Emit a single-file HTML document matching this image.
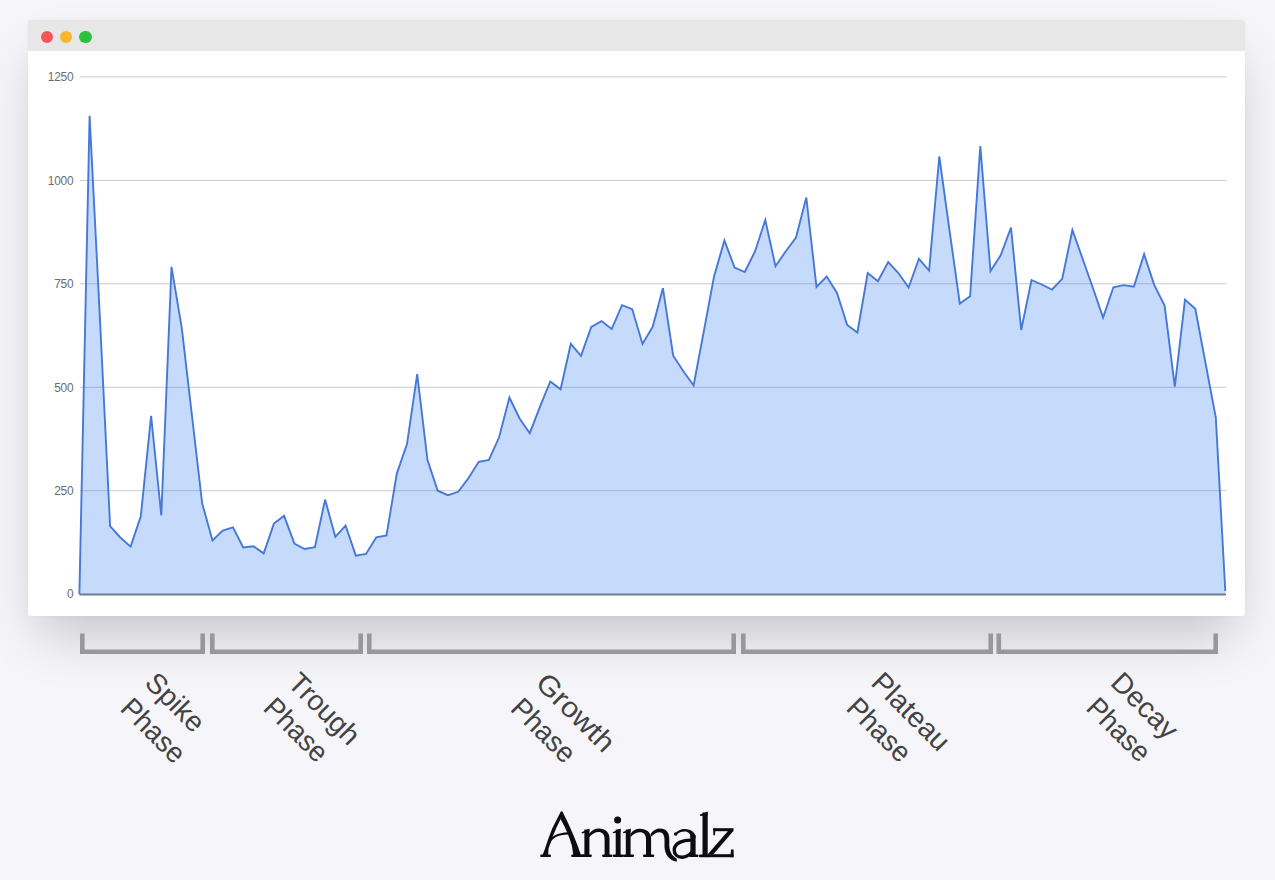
<!DOCTYPE html>
<html><head><meta charset="utf-8">
<style>
html,body{margin:0;padding:0;}
body{width:1275px;height:880px;overflow:hidden;background:#f5f5fa;position:relative;font-family:"Liberation Sans",sans-serif;}
.win{position:absolute;left:28px;top:20px;width:1217px;height:596px;background:#fff;border-radius:3px;overflow:hidden;box-shadow:0 28px 52px -10px rgba(0,0,0,0.2),0 0 6px rgba(0,0,0,0.03);}
.bar{position:absolute;left:0;top:0;width:100%;height:30.6px;background:#e7e7e7;}
.dot{position:absolute;top:10.5px;width:12.5px;height:12.5px;border-radius:50%;}
svg{position:absolute;left:0;top:0;}
</style></head><body>
<div class="win">
<div class="bar">
<div class="dot" style="left:12.8px;background:#f6565a"></div>
<div class="dot" style="left:31.8px;background:#f8b62f"></div>
<div class="dot" style="left:51px;background:#2cc23f"></div>
</div>
</div>
<svg width="1275" height="880" viewBox="0 0 1275 880">
<g><line x1="80" y1="76.9" x2="1226.5" y2="76.9" stroke="#c9c9c9" stroke-width="1"/>
<line x1="80" y1="180.4" x2="1226.5" y2="180.4" stroke="#c9c9c9" stroke-width="1"/>
<line x1="80" y1="283.8" x2="1226.5" y2="283.8" stroke="#c9c9c9" stroke-width="1"/>
<line x1="80" y1="387.3" x2="1226.5" y2="387.3" stroke="#c9c9c9" stroke-width="1"/>
<line x1="80" y1="490.7" x2="1226.5" y2="490.7" stroke="#c9c9c9" stroke-width="1"/>
</g>
<g font-family="Liberation Sans, sans-serif" font-size="11.9" fill="#6c6c6c" letter-spacing="-0.25"><text x="73.3" y="81.1" text-anchor="end">1250</text>
<text x="73.3" y="184.6" text-anchor="end">1000</text>
<text x="73.3" y="288.0" text-anchor="end">750</text>
<text x="73.3" y="391.5" text-anchor="end">500</text>
<text x="73.3" y="494.9" text-anchor="end">250</text>
<text x="73.3" y="598.4" text-anchor="end">0</text>
</g>
<polygon points="79.4,594.2 79.4,594.0 89.6,115.8 99.9,318.0 110.1,526.1 120.3,537.5 130.6,546.6 140.8,516.2 151.1,415.9 161.3,515.3 171.5,266.9 181.8,328.2 192.0,416.0 202.2,503.5 212.5,540.4 222.7,530.5 233.0,527.4 243.2,547.5 253.4,546.2 263.7,553.4 273.9,523.6 284.1,515.8 294.4,543.5 304.6,549.0 314.9,547.1 325.1,499.6 335.3,536.8 345.6,525.5 355.8,555.6 366.0,554.0 376.3,537.3 386.5,535.5 396.8,473.6 407.0,444.1 417.2,374.1 427.5,460.0 437.7,490.7 447.9,495.2 458.2,491.8 468.4,478.2 478.7,461.8 488.9,460.0 499.1,437.3 509.4,397.5 519.6,418.5 529.8,433.2 540.1,406.4 550.3,381.4 560.6,389.3 570.8,343.9 581.0,355.9 591.3,326.8 601.5,321.1 611.7,329.1 622.0,305.2 632.2,309.1 642.5,343.9 652.7,326.8 662.9,288.2 673.2,355.7 683.4,371.2 693.6,385.5 703.9,330.9 714.1,276.2 724.4,240.5 734.6,267.5 744.8,272.0 755.1,251.2 765.3,220.0 775.5,266.2 785.8,251.2 796.0,237.5 806.3,197.5 816.5,287.0 826.7,276.5 837.0,293.0 847.2,325.0 857.4,332.5 867.7,273.0 877.9,281.2 888.2,262.0 898.4,273.0 908.6,287.5 918.9,258.8 929.1,270.5 939.3,156.5 949.6,231.0 959.8,303.5 970.1,296.2 980.3,146.2 990.5,271.2 1000.8,255.0 1011.0,227.5 1021.2,330.0 1031.5,280.0 1041.7,284.5 1052.0,289.5 1062.2,278.8 1072.4,230.0 1082.7,259.0 1092.9,288.0 1103.1,317.5 1113.4,287.2 1123.6,285.1 1133.9,286.6 1144.1,254.2 1154.3,285.1 1164.6,305.6 1174.8,386.6 1185.0,299.6 1195.3,308.8 1205.5,363.0 1215.8,417.5 1225.3,591 1225.3,594.2" fill="#4285f4" fill-opacity="0.3"/>
<polyline points="79.4,594.0 89.6,115.8 99.9,318.0 110.1,526.1 120.3,537.5 130.6,546.6 140.8,516.2 151.1,415.9 161.3,515.3 171.5,266.9 181.8,328.2 192.0,416.0 202.2,503.5 212.5,540.4 222.7,530.5 233.0,527.4 243.2,547.5 253.4,546.2 263.7,553.4 273.9,523.6 284.1,515.8 294.4,543.5 304.6,549.0 314.9,547.1 325.1,499.6 335.3,536.8 345.6,525.5 355.8,555.6 366.0,554.0 376.3,537.3 386.5,535.5 396.8,473.6 407.0,444.1 417.2,374.1 427.5,460.0 437.7,490.7 447.9,495.2 458.2,491.8 468.4,478.2 478.7,461.8 488.9,460.0 499.1,437.3 509.4,397.5 519.6,418.5 529.8,433.2 540.1,406.4 550.3,381.4 560.6,389.3 570.8,343.9 581.0,355.9 591.3,326.8 601.5,321.1 611.7,329.1 622.0,305.2 632.2,309.1 642.5,343.9 652.7,326.8 662.9,288.2 673.2,355.7 683.4,371.2 693.6,385.5 703.9,330.9 714.1,276.2 724.4,240.5 734.6,267.5 744.8,272.0 755.1,251.2 765.3,220.0 775.5,266.2 785.8,251.2 796.0,237.5 806.3,197.5 816.5,287.0 826.7,276.5 837.0,293.0 847.2,325.0 857.4,332.5 867.7,273.0 877.9,281.2 888.2,262.0 898.4,273.0 908.6,287.5 918.9,258.8 929.1,270.5 939.3,156.5 949.6,231.0 959.8,303.5 970.1,296.2 980.3,146.2 990.5,271.2 1000.8,255.0 1011.0,227.5 1021.2,330.0 1031.5,280.0 1041.7,284.5 1052.0,289.5 1062.2,278.8 1072.4,230.0 1082.7,259.0 1092.9,288.0 1103.1,317.5 1113.4,287.2 1123.6,285.1 1133.9,286.6 1144.1,254.2 1154.3,285.1 1164.6,305.6 1174.8,386.6 1185.0,299.6 1195.3,308.8 1205.5,363.0 1215.8,417.5 1225.3,591" fill="none" stroke="#4678d8" stroke-width="1.9" stroke-linejoin="miter"/>
<line x1="79.4" y1="594.5" x2="1226" y2="594.5" stroke="#6e7d90" stroke-width="2"/>
<path d="M82.3,633.5 V651.7 H202.7 V633.5" fill="none" stroke="#98989b" stroke-width="4.6"/>
<path d="M212.3,633.5 V651.7 H360.7 V633.5" fill="none" stroke="#98989b" stroke-width="4.6"/>
<path d="M369.3,633.5 V651.7 H733.7 V633.5" fill="none" stroke="#98989b" stroke-width="4.6"/>
<path d="M743.3,633.5 V651.7 H990.7 V633.5" fill="none" stroke="#98989b" stroke-width="4.6"/>
<path d="M998.8,633.5 V651.7 H1215.7 V633.5" fill="none" stroke="#98989b" stroke-width="4.6"/>

<g font-family="Liberation Sans, sans-serif" font-size="28.5" fill="#434343">
<text transform="translate(168.38,709.11) rotate(45)" text-anchor="middle" textLength="70.30" lengthAdjust="spacingAndGlyphs">Spike</text>
<text transform="translate(146.55,737.38) rotate(45)" text-anchor="middle" textLength="77.98" lengthAdjust="spacingAndGlyphs">Phase</text>
<text transform="translate(317.57,715.66) rotate(45)" text-anchor="middle" textLength="87.92" lengthAdjust="spacingAndGlyphs">Trough</text>
<text transform="translate(289.40,736.53) rotate(45)" text-anchor="middle" textLength="77.28" lengthAdjust="spacingAndGlyphs">Phase</text>
<text transform="translate(568.90,719.39) rotate(45)" text-anchor="middle" textLength="97.89" lengthAdjust="spacingAndGlyphs">Growth</text>
<text transform="translate(536.71,737.22) rotate(45)" text-anchor="middle" textLength="77.53" lengthAdjust="spacingAndGlyphs">Phase</text>
<text transform="translate(904.19,718.47) rotate(45)" text-anchor="middle" textLength="97.22" lengthAdjust="spacingAndGlyphs">Plateau</text>
<text transform="translate(872.35,736.59) rotate(45)" text-anchor="middle" textLength="77.53" lengthAdjust="spacingAndGlyphs">Phase</text>
<text transform="translate(1138.02,712.55) rotate(45)" text-anchor="middle" textLength="81.04" lengthAdjust="spacingAndGlyphs">Decay</text>
<text transform="translate(1111.97,736.39) rotate(45)" text-anchor="middle" textLength="77.08" lengthAdjust="spacingAndGlyphs">Phase</text>
</g>
<g fill="#0d0d0d">
<!-- A -->
<polygon points="560.8,811.5 556.5,820 552.1,828.7 548.4,838.5 544.7,849.4 542.6,855 548.2,855 548.5,848.8 551.8,838.7 556.5,827.5 560.9,818.6 562.6,812.5"/>
<polygon points="561,811.4 562.4,811.6 566.4,819.5 570.1,827.5 573.8,836 577.2,844.6 580.9,855 573.3,855 571.9,845.8 569.8,839.2 567.7,833.4 564,825.5 560.6,819.2"/>
<rect x="540.2" y="854.5" width="10.8" height="2.6" rx="1.2"/>
<rect x="571.2" y="854.4" width="16" height="2.7" rx="1"/>
<path d="M548.8,843.5 C551.5,836.8 557,833.8 568.5,833.3" fill="none" stroke="#0d0d0d" stroke-width="2.2"/>
<!-- n -->
<rect x="584.4" y="829.5" width="5" height="26"/>
<polygon points="581.3,832.4 589.4,828.4 589.4,831.8 582.2,833.4"/>
<path d="M589,833.8 C592,830 595,828.4 598.6,828.4 C605.5,828.4 609.5,832.2 609.5,838.5 L609.5,855 L604.6,855 L604.6,839 C604.6,834.6 602.2,832 598.4,832 C595,832 592.2,834 589,837.2 Z"/>
<rect x="581.1" y="854.4" width="10.7" height="2.7" rx="1"/>
<rect x="602.1" y="854.4" width="10.3" height="2.7" rx="1"/>
<!-- i -->
<rect x="615.7" y="829.5" width="4.9" height="26"/>
<polygon points="612.6,832.3 620.6,828.4 620.6,831.8 613.4,833.3"/>
<circle cx="617.6" cy="819.9" r="3.5"/>
<rect x="612.8" y="854.4" width="10.7" height="2.7" rx="1"/>
<!-- m -->
<rect x="625.8" y="829.5" width="4.8" height="26"/>
<polygon points="622.8,832.3 630.6,828.4 630.6,831.8 623.6,833.3"/>
<path d="M630.4,833.8 C633,830.4 636,828.8 639.5,828.8 C646.5,828.8 651.1,832.5 651.1,838.5 L651.1,855 L646,855 L646,839 C646,834.8 643.6,832.3 640,832.3 C636.6,832.3 633.4,834.2 630.4,837.2 Z"/>
<path d="M650.8,833.6 C653.5,830.2 656.5,828.6 660,828.6 C666.5,828.6 669.3,832.8 669.3,839 L669.3,846 C669.6,851.5 672,856 676.9,858.7 L676.6,861.8 C669.5,860.6 664.8,854.5 664.5,847 L664.5,839.2 C664.5,835 662.6,832.2 659.5,832.2 C656.6,832.2 653.8,834 650.8,837 Z"/>
<rect x="623" y="854.4" width="11" height="2.7" rx="1"/>
<rect x="643" y="854.4" width="11.2" height="2.7" rx="1"/>
<!-- a -->
<rect x="690.4" y="835" width="5.2" height="20"/>
<path d="M675,834.4 C677.5,830.4 680.8,829 684.5,829 C691.5,829 695.6,832.5 695.6,838 L690.6,838 C690.6,834 688.5,831.6 684.6,831.6 C681.6,831.6 678.6,832.6 676.2,835.4 Z"/>
<circle cx="675.6" cy="834" r="1.7"/>
<path d="M692.5,840.2 C684,839.8 674.2,842.5 674.2,850 C674.2,854.5 677.6,857.2 682,857.2 C685.8,857.2 689.5,855 692.5,851.5" fill="none" stroke="#0d0d0d" stroke-width="3.4"/>
<rect x="689" y="854.4" width="9.5" height="2.7" rx="1"/>
<!-- l -->
<rect x="702.5" y="812.5" width="5.2" height="43"/>
<polygon points="699.6,814.8 707.7,811.5 707.7,815.2 700.4,815.9"/>
<rect x="699" y="854.4" width="10" height="2.8" rx="1"/>
<!-- z -->
<polygon points="713.3,828.2 733.5,828.2 733.5,831.2 713.3,831.2"/>
<polygon points="713.3,828.2 715.4,828.2 715,835.2 713.3,835.2"/>
<polygon points="728.2,830.8 733.6,830.8 713.2,854.6 707.6,854.6"/>
<rect x="707.6" y="854.2" width="25.9" height="3" />
<polygon points="731,849.4 733.6,849.4 733.6,857.2 730.4,857.2"/>
</g>
</svg>
</body></html>
